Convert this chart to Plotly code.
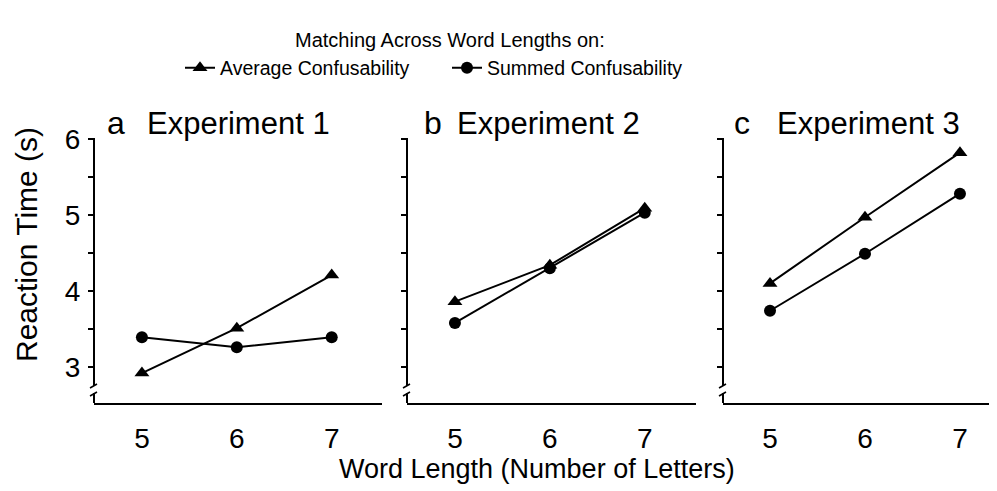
import plotly.graph_objects as go
from plotly.subplots import make_subplots

# ---- data ----
word_lengths = [5, 6, 7]
experiments = ["Experiment 1", "Experiment 2", "Experiment 3"]
panel_letters = ["a", "b", "c"]
avg_conf = {
    "Experiment 1": [2.92, 3.51, 4.21],
    "Experiment 2": [3.86, 4.34, 5.09],
    "Experiment 3": [4.10, 4.97, 5.82],
}
sum_conf = {
    "Experiment 1": [3.39, 3.26, 3.39],
    "Experiment 2": [3.58, 4.30, 5.03],
    "Experiment 3": [3.74, 4.49, 5.28],
}
series_names = ["Average Confusability", "Summed Confusability"]
y_tickvals = [3, 3.5, 4, 4.5, 5, 5.5, 6]
y_ticktext = ["3", "", "4", "", "5", "", "6"]

# page body has an 8px default margin; size the figure to fill the window
OFF = 8
W, H = 997 - OFF, 491 - OFF
FONT = "Liberation Sans, Arial, Helvetica, sans-serif"

def px_x(p):
    return (p - OFF) / W

def px_y(p):
    return 1 - (p - OFF) / H

# panel pixel geometry (left, right) in window pixels
panels_px = [(94, 382), (407, 696), (723, 997)]
y_top_px, y_bot_px = 139, 403
x_ranges = [[4.495, 7.53], [4.495, 7.54], [4.505, 7.39]]
y_range = [2.526, 6.0]

fig = make_subplots(rows=1, cols=3)

for i, exp in enumerate(experiments):
    fig.add_trace(go.Scatter(
        x=word_lengths, y=avg_conf[exp], mode="lines+markers",
        name=series_names[0], legendgroup="avg", showlegend=(i == 0),
        line=dict(color="black", width=2),
        marker=dict(symbol="triangle-up", size=13, color="black"),
    ), row=1, col=i + 1)
    fig.add_trace(go.Scatter(
        x=word_lengths, y=sum_conf[exp], mode="lines+markers",
        name=series_names[1], legendgroup="sum", showlegend=(i == 0),
        line=dict(color="black", width=2),
        marker=dict(symbol="circle", size=12, color="black"),
    ), row=1, col=i + 1)

shapes = []
annotations = []
for i in range(3):
    l, r = panels_px[i]
    xa = "xaxis" if i == 0 else f"xaxis{i+1}"
    ya = "yaxis" if i == 0 else f"yaxis{i+1}"
    fig.layout[xa].update(
        domain=[px_x(l), min(1.0, px_x(r))], range=x_ranges[i],
        showline=True, linecolor="black", linewidth=2,
        showgrid=False, zeroline=False, ticks="",
        tickvals=word_lengths, ticktext=[str(v) for v in word_lengths],
        tickfont=dict(family=FONT, size=28, color="black"),
        ticklabelstandoff=9,
    )
    fig.layout[ya].update(
        domain=[px_y(y_bot_px), px_y(y_top_px)], range=y_range,
        showline=False, showgrid=False, zeroline=False,
        ticks="outside", ticklen=5, tickwidth=2, tickcolor="black",
        tickvals=y_tickvals,
        ticktext=y_ticktext if i == 0 else [""] * len(y_tickvals),
        tickfont=dict(family=FONT, size=28, color="black"),
        ticklabelstandoff=2,
    )
    # y axis line with break (decoration)
    ax = px_x(l)
    dx1, dx2 = 4 / W, 3 / W
    shapes.append(dict(type="line", xref="paper", yref="paper",
                       x0=ax, x1=ax, y0=px_y(y_top_px - 1), y1=px_y(386),
                       line=dict(color="black", width=2)))
    shapes.append(dict(type="line", xref="paper", yref="paper",
                       x0=ax - dx1, x1=ax + dx2, y0=px_y(388), y1=px_y(384),
                       line=dict(color="black", width=1.5)))
    shapes.append(dict(type="line", xref="paper", yref="paper",
                       x0=ax - dx1, x1=ax + dx2, y0=px_y(396), y1=px_y(392),
                       line=dict(color="black", width=1.5)))
    shapes.append(dict(type="line", xref="paper", yref="paper",
                       x0=ax, x1=ax, y0=px_y(393), y1=px_y(y_bot_px),
                       line=dict(color="black", width=2)))

# panel titles
title_pos = [(105, 145), (422, 455), (732, 775)]
for i in range(3):
    lx, ex = title_pos[i]
    annotations.append(dict(text=panel_letters[i], x=px_x(lx), y=px_y(123),
                            xref="paper", yref="paper", xanchor="left", yanchor="middle",
                            showarrow=False, font=dict(family=FONT, size=32, color="black")))
    annotations.append(dict(text=experiments[i], x=px_x(ex), y=px_y(123),
                            xref="paper", yref="paper", xanchor="left", yanchor="middle",
                            showarrow=False, font=dict(family=FONT, size=31, color="black")))

# axis titles
annotations.append(dict(text="Word Length (Number of Letters)", x=px_x(537), y=px_y(469),
                        xref="paper", yref="paper", xanchor="center", yanchor="middle",
                        showarrow=False, font=dict(family=FONT, size=27, color="black")))
annotations.append(dict(text="Reaction Time (s)", x=px_x(27), y=px_y(245), textangle=-90,
                        xref="paper", yref="paper", xanchor="center", yanchor="middle",
                        showarrow=False, font=dict(family=FONT, size=30, color="black")))
# legend heading
annotations.append(dict(text="Matching Across Word Lengths on:", x=px_x(450), y=px_y(40),
                        xref="paper", yref="paper", xanchor="center", yanchor="middle",
                        showarrow=False, font=dict(family=FONT, size=20, color="black")))

fig.update_layout(
    width=W, height=H,
    margin=dict(l=0, r=0, t=0, b=0, autoexpand=False),
    paper_bgcolor="white", plot_bgcolor="white",
    shapes=shapes, annotations=annotations,
    legend=dict(orientation="h", x=px_x(180), y=px_y(68), xanchor="left", yanchor="middle",
                font=dict(family=FONT, size=19.5, color="black"),
                itemwidth=30, entrywidth=222, bgcolor="rgba(0,0,0,0)"),
    showlegend=True,
)

fig.write_html("out.html")
